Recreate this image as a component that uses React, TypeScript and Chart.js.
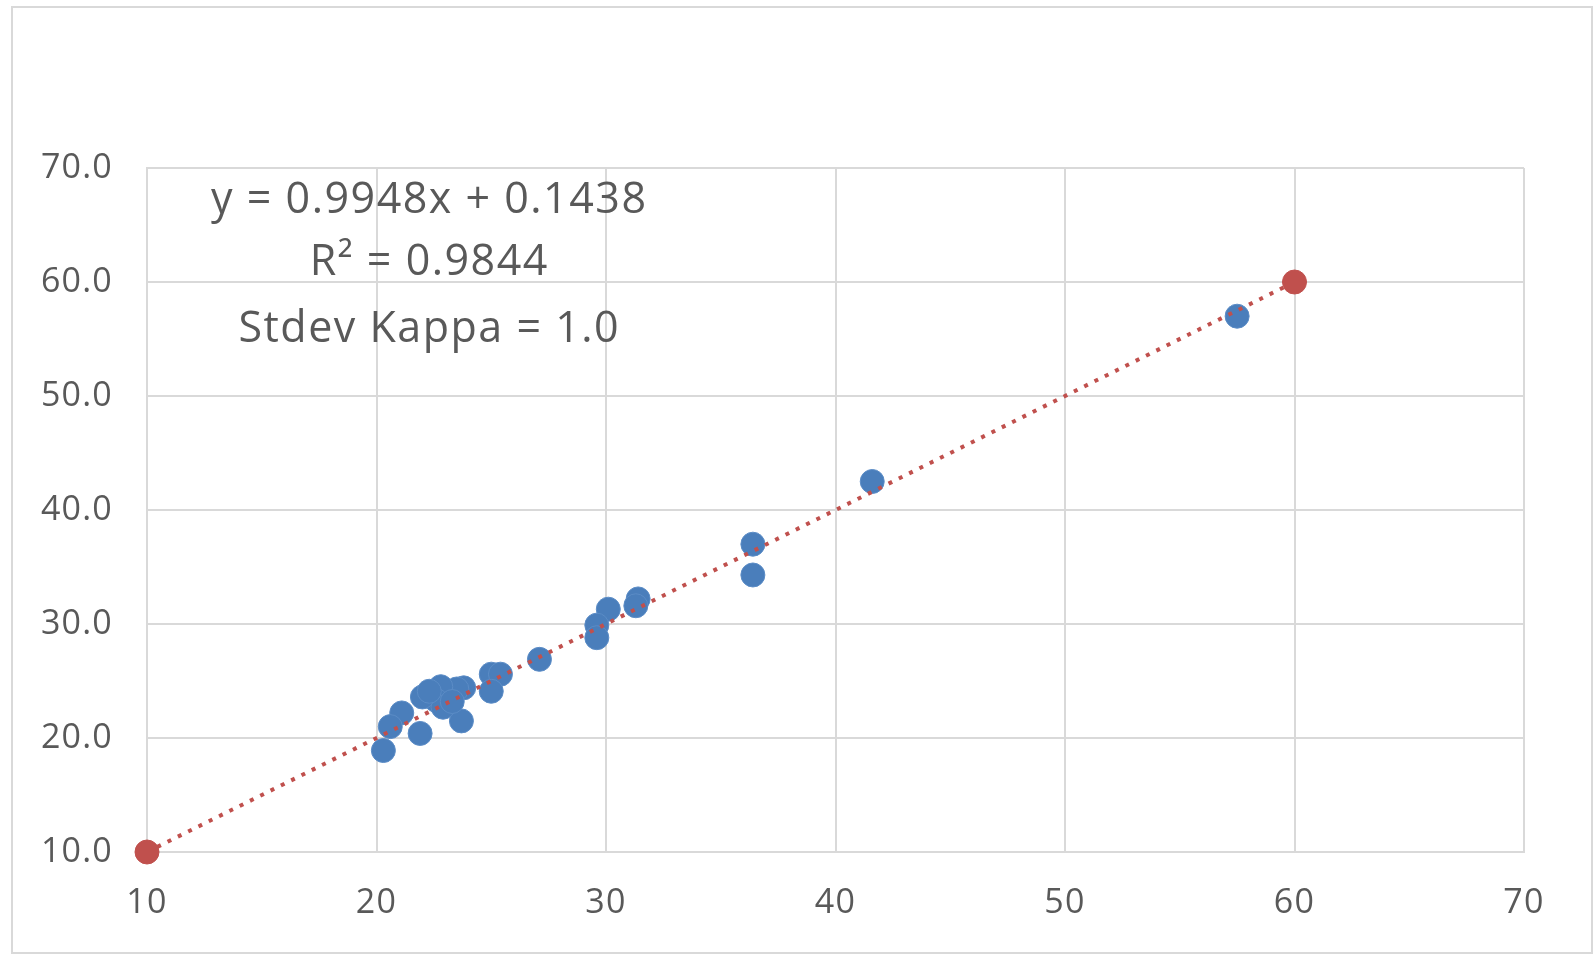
import React, { useEffect, useRef } from "react";
import { Chart, registerables } from "chart.js";

Chart.register(...registerables);

// Measured values (blue points)
const measuredX = [57.5, 41.6, 36.4, 36.4, 31.4, 31.3, 30.1, 29.6, 29.6, 27.1, 25.0, 25.4, 25.0, 23.7, 23.8, 23.5, 22.8, 22.6, 22.9, 22.0, 22.3, 21.9, 21.1, 20.6, 20.3, 23.3];
const measuredY = [57.0, 42.5, 37.0, 34.3, 32.2, 31.6, 31.3, 29.9, 28.8, 26.9, 25.6, 25.6, 24.1, 21.5, 24.4, 24.3, 24.5, 23.3, 22.7, 23.6, 24.1, 20.4, 22.2, 21.0, 18.9, 23.2];

// Reference line endpoints (red)
const refX = [10, 60];
const refY = [10, 60];

const xTicks = [10, 20, 30, 40, 50, 60, 70];
const yTicks = [10, 20, 30, 40, 50, 60, 70];

const annotationLines = ["y = 0.9948x + 0.1438", "R² = 0.9844", "Stdev Kappa = 1.0"];

const FONT = "'Open Sans', 'Noto Sans', sans-serif";
const TEXT = "#595959";
const GRID = "#d9d9d9";

export default function App() {
  const ref = useRef<HTMLCanvasElement | null>(null);

  useEffect(() => {
    if (!ref.current) return;
    const spacing = {
      id: "spacing",
      beforeDraw(chart: any) {
        (chart.ctx as any).letterSpacing = "1.2px";
      },
    };
    const annot = {
      id: "annot",
      afterDraw(chart: any) {
        const ctx = chart.ctx;
        const xs = chart.scales.x;
        const ys = chart.scales.y;
        const cx = xs.getPixelForValue(22.3);
        const baseVals = [66.07, 60.63, 54.75];
        ctx.save();
        (ctx as any).letterSpacing = "1.5px";
        ctx.fillStyle = TEXT;
        ctx.font = `43px ${FONT}`;
        ctx.textAlign = "center";
        ctx.textBaseline = "alphabetic";
        annotationLines.forEach((t, i) => {
          ctx.fillText(t, cx, ys.getPixelForValue(baseVals[i]));
        });
        ctx.restore();
      },
    };
    const chart = new Chart(ref.current, {
      type: "scatter",
      data: {
        datasets: [
          {
            type: "line",
            label: "Reference",
            data: refX.map((x, i) => ({ x, y: refY[i] })),
            borderColor: "#C0504D",
            backgroundColor: "#C0504D",
            borderWidth: 4,
            borderDash: [4, 7.5],
            pointRadius: 12,
            pointBorderWidth: 1,
            pointBorderColor: "#C0504D",
            pointBackgroundColor: "#C0504D",
            showLine: true,
            fill: false,
            clip: false,
          } as any,
          {
            label: "Measured",
            data: measuredX.map((x, i) => ({ x, y: measuredY[i] })),
            backgroundColor: "#4A7EBB",
            borderColor: "#5B8CC6",
            borderWidth: 1,
            pointRadius: 12,
            clip: false,
          } as any,
        ],
      },
      options: {
        animation: false,
        responsive: false,
        layout: { padding: { top: 168, right: 69, left: 0, bottom: 0 } },
        plugins: { legend: { display: false }, tooltip: { enabled: false } },
        scales: {
          x: {
            type: "linear",
            min: 10,
            max: 70,
            afterFit(s: any) { s.height = 102; },
            afterBuildTicks(s: any) { s.ticks = xTicks.map((v) => ({ value: v })); },
            grid: { color: GRID, lineWidth: 2, drawTicks: false },
            border: { color: GRID, width: 2 },
            ticks: { color: TEXT, font: { family: FONT, size: 34 }, padding: 31, callback: (v: any) => String(v) },
          },
          y: {
            type: "linear",
            min: 10,
            max: 70,
            afterFit(s: any) { s.width = 147; },
            afterBuildTicks(s: any) { s.ticks = yTicks.map((v) => ({ value: v })); },
            grid: { color: GRID, lineWidth: 2, drawTicks: false },
            border: { color: GRID, width: 2 },
            ticks: { color: TEXT, font: { family: FONT, size: 34 }, padding: 34, callback: (v: any) => Number(v).toFixed(1) },
          },
        },
      },
      plugins: [spacing, annot],
    });
    return () => chart.destroy();
  }, []);

  return (
    <div style={{ position: "fixed", left: 0, top: 0, width: 1593, height: 954, background: "#fff" }}>
      <div style={{ position: "absolute", left: 11, top: 6, width: 1578, height: 944, border: `2px solid ${GRID}` }} />
      <canvas ref={ref} width={1593} height={954} style={{ position: "absolute", left: 0, top: 0, width: 1593, height: 954 }} />
    </div>
  );
}
